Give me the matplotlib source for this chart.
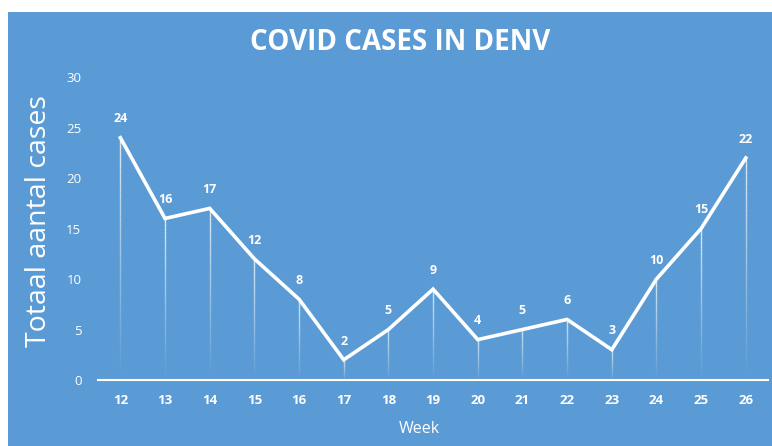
import matplotlib
matplotlib.use("Agg")
import matplotlib.pyplot as plt
import numpy as np
from matplotlib.collections import LineCollection
from matplotlib.patches import Rectangle

weeks = [12, 13, 14, 15, 16, 17, 18, 19, 20, 21, 22, 23, 24, 25, 26]
cases = [24, 16, 17, 12, 8, 2, 5, 9, 4, 5, 6, 3, 10, 15, 22]
y_ticks = [0, 5, 10, 15, 20, 25, 30]

BG = "#5b9bd5"
plt.rcParams["font.family"] = ["Open Sans", "DejaVu Sans"]

fig = plt.figure(figsize=(7.72, 4.46), dpi=100)
fig.patch.set_facecolor("white")
fig.patches.append(Rectangle((8 / 772, 0), 1, 1 - 12 / 446, transform=fig.transFigure,
                             facecolor=BG, edgecolor="none", zorder=-10))

ax = fig.add_axes([0.127, 0.148, 0.868, 0.679])
ax.set_facecolor("none")

# fading drop lines
n = 40
for w, c in zip(weeks, cases):
    ys = np.linspace(c, 0, n + 1)
    segs = [[(w, ys[i]), (w, ys[i + 1])] for i in range(n)]
    alphas = np.linspace(0.8, 0.0, n)
    cols = [(1, 1, 1, a) for a in alphas]
    ax.add_collection(LineCollection(segs, colors=cols, linewidths=1.0, zorder=2))

ax.plot(weeks, cases, color="white", lw=2.6, solid_joinstyle="miter", zorder=3)
for w, c in zip(weeks, cases):
    ax.annotate(str(c), (w, c), xytext=(0, 13.5), textcoords="offset points",
                ha="center", va="center", color="white", fontsize=9, fontweight="bold")

ax.set_xlim(11.5, 26.5)
ax.set_ylim(0, 30)
ax.set_xticks(weeks)
ax.set_xticklabels([str(w) for w in weeks], fontweight="bold")
ax.set_yticks(y_ticks)
ax.tick_params(axis="both", colors="white", length=0, labelsize=9.5)
ax.tick_params(axis="x", pad=10)
ax.tick_params(axis="y", pad=12)
for s in ["top", "right", "left"]:
    ax.spines[s].set_visible(False)
ax.spines["bottom"].set_color("white")
ax.spines["bottom"].set_linewidth(1.5)

ax.set_xlabel("Week", color="white", fontsize=11.5, labelpad=10, x=0.48)
fig.text(0.051, 0.505, "Totaal aantal cases", rotation=90, color="white",
         fontsize=20.5, ha="center", va="center")
fig.text(0.518, 0.905, "COVID CASES IN DENV", color="white", fontsize=20,
         fontweight="bold", ha="center", va="center")

fig.savefig("out.png", dpi=100, facecolor=fig.get_facecolor())
